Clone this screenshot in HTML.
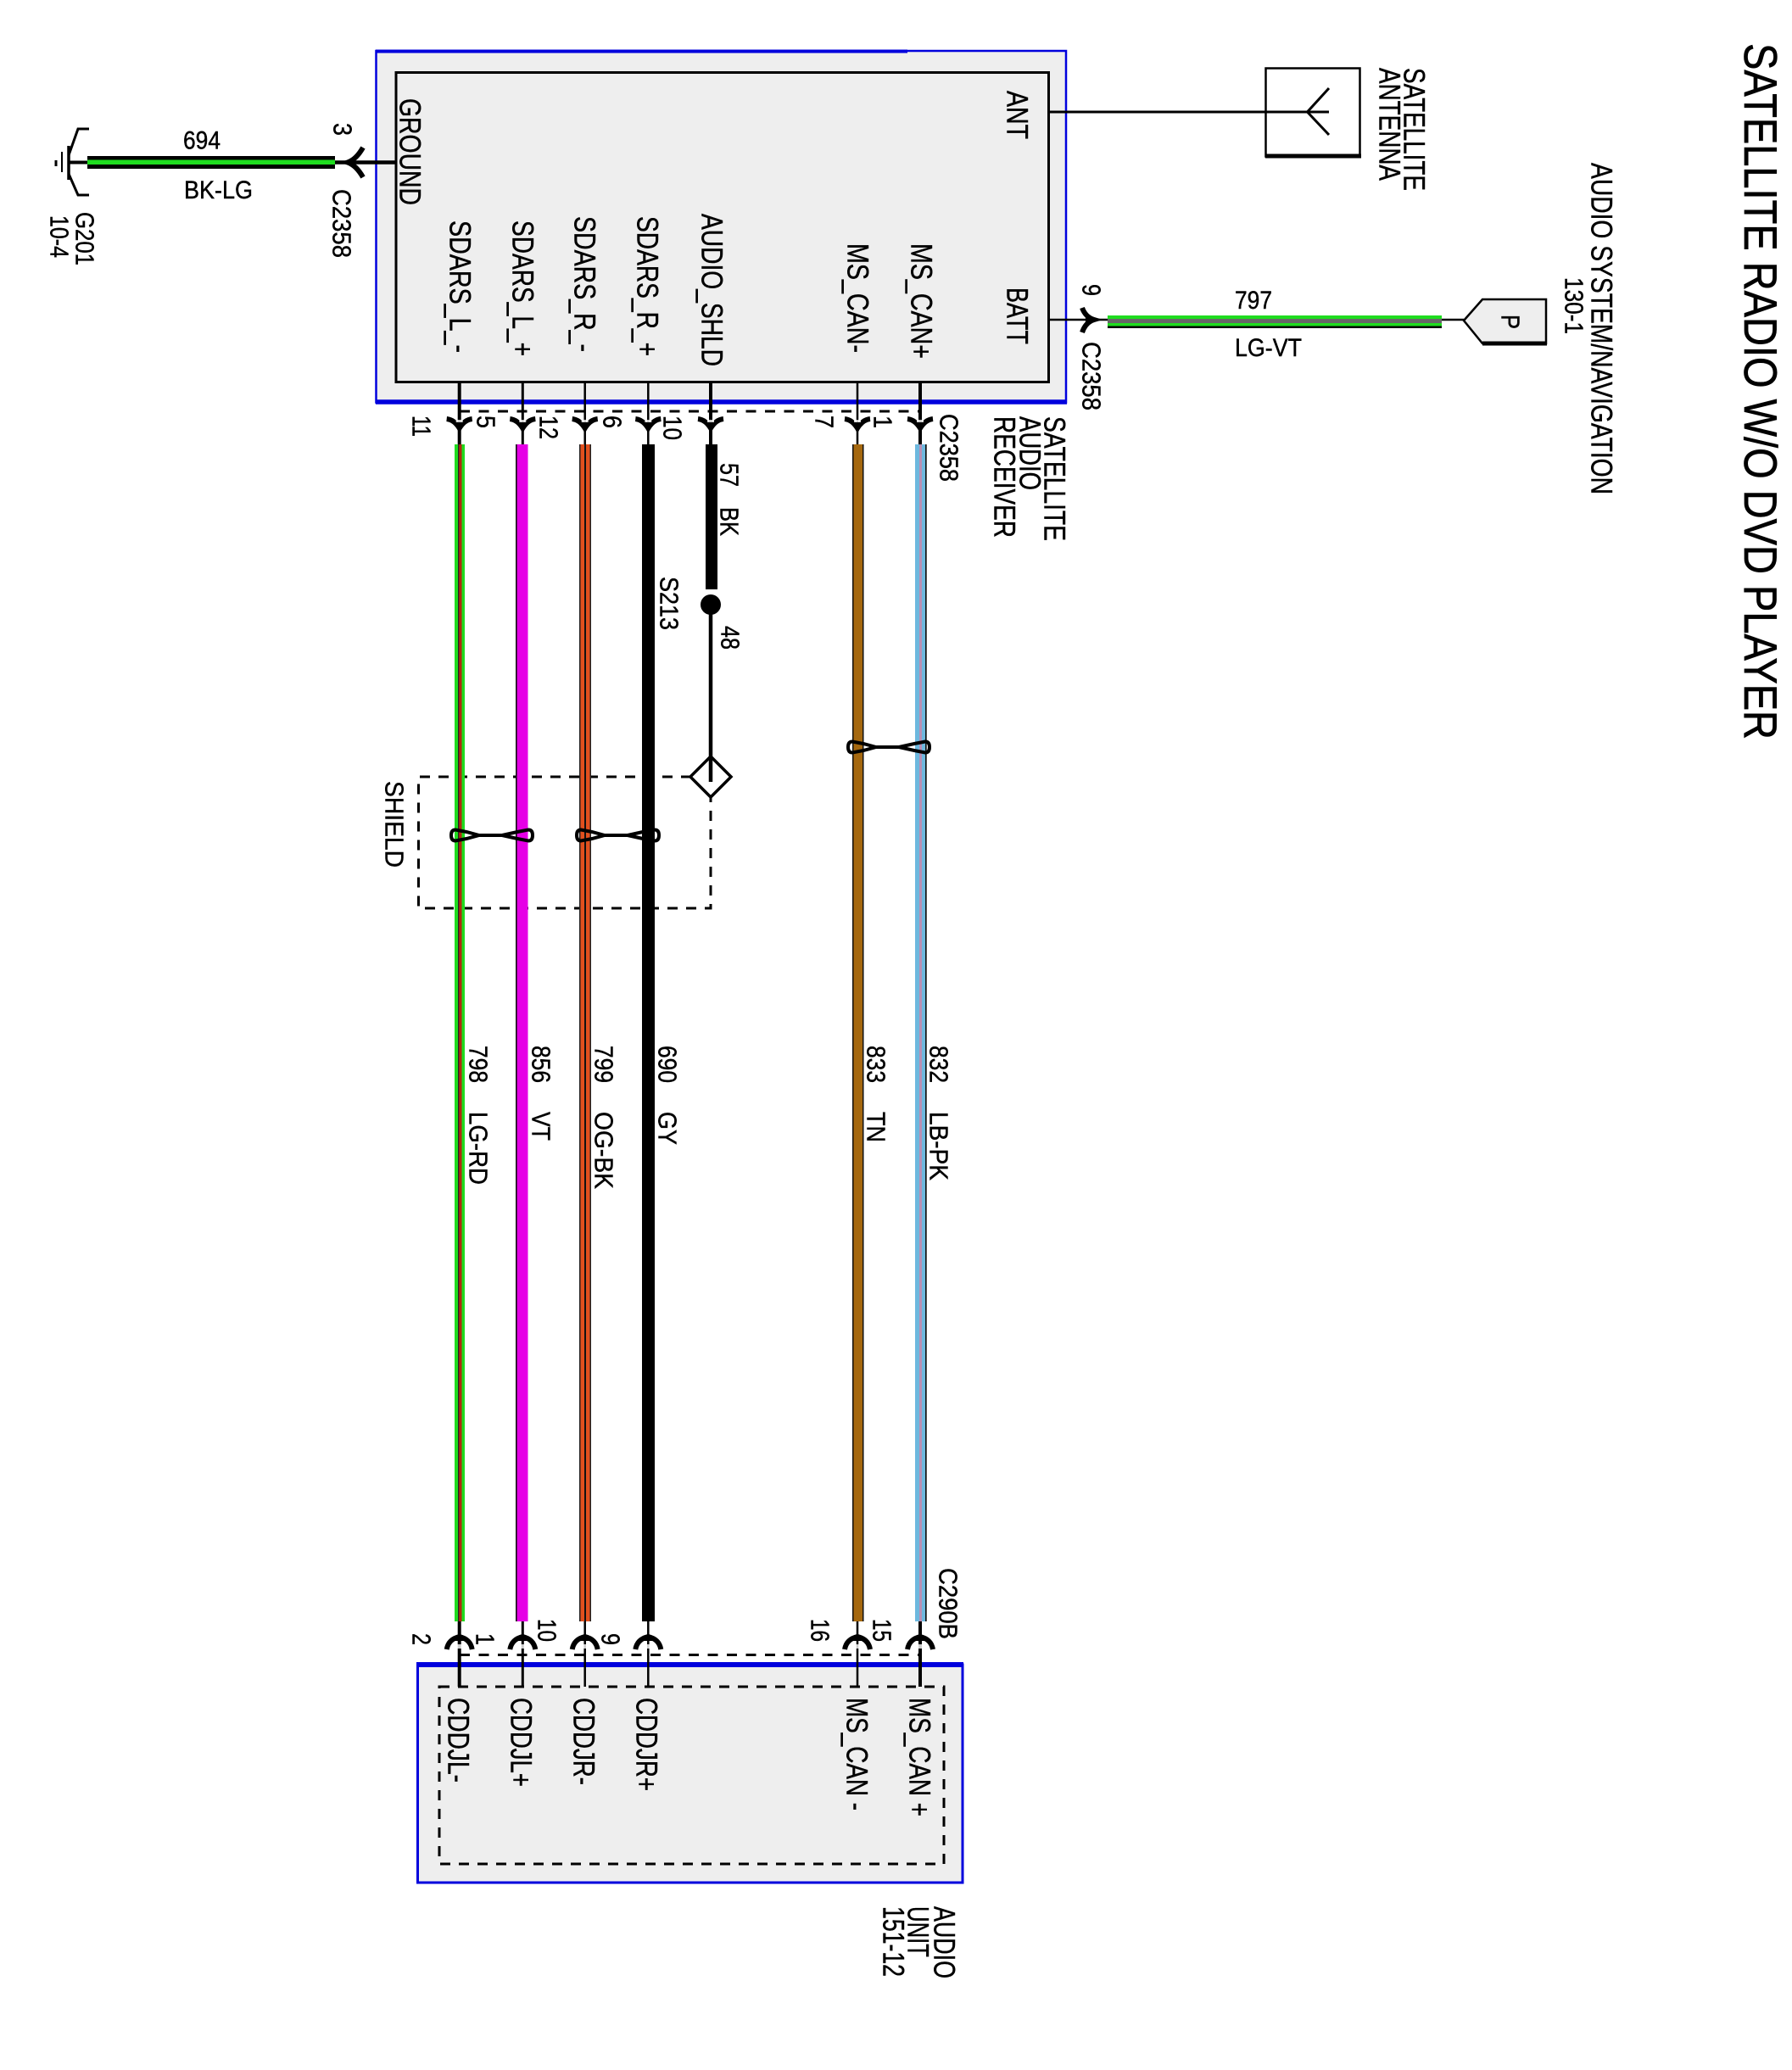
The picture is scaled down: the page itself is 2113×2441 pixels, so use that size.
<!DOCTYPE html>
<html>
<head>
<meta charset="utf-8">
<style>
html,body{margin:0;padding:0;background:#fff}
svg{display:block}
text{font-family:"Liberation Sans",sans-serif;fill:#000;stroke:#000;stroke-width:.45px}
.b{font-size:35px}
.n{font-size:31px}
</style>
</head>
<body>
<svg xmlns="http://www.w3.org/2000/svg" width="2113" height="2441" viewBox="0 0 2113 2441">
<defs>
<g id="dn"><path d="M-15,494 Q-6,495 0,505 Q6,495 15,494" fill="none" stroke="#000" stroke-width="6"/><path d="M-6,498 L0,510 L6,498Z" fill="#000"/><rect x="-4" y="495" width="8" height="3" fill="#fff" opacity=".8"/></g>
<g id="up"><path d="M-15,1945 Q-13,1933 0,1930 Q13,1933 15,1945" fill="none" stroke="#000" stroke-width="6"/><path d="M-6,1935 L0,1925 L6,1935Z" fill="#000"/><rect x="-4" y="1939" width="8" height="5" fill="#fff" opacity=".8"/></g>
</defs>
<rect width="2113" height="2441" fill="#fff"/>

<!-- Receiver box -->
<rect x="443.5" y="60" width="813.5" height="414.5" fill="#eee"/>
<path d="M443.5,60H1257V474.5H443.5Z" fill="none" stroke="#0000dd" stroke-width="2.5"/>
<path d="M443,60.5H1070" stroke="#0000dd" stroke-width="4" fill="none"/>
<path d="M443,474H1258" stroke="#0000dd" stroke-width="5.5" fill="none"/>
<rect x="467" y="85.5" width="769.5" height="365" fill="#eee" stroke="#000" stroke-width="3"/>

<!-- Audio unit box -->
<rect x="492.5" y="1963" width="642.5" height="257" fill="#eee" stroke="#0000dd" stroke-width="3"/>
<path d="M491,1963H1136" stroke="#0000dd" stroke-width="6" fill="none"/>
<rect x="518" y="1989" width="595" height="209" fill="none" stroke="#000" stroke-width="3" stroke-dasharray="12 10"/>

<!-- Dashed connector lines -->
<path d="M542,485H1085M542,1951.5H1085" fill="none" stroke="#000" stroke-width="3" stroke-dasharray="12 10.5"/>

<!-- Shield dashed -->
<path d="M815,916H493.5V1071H838V941" fill="none" stroke="#000" stroke-width="3" stroke-dasharray="12 10"/>

<!-- Thin vertical connections -->
<g fill="none" stroke="#000">
<path d="M541.7,450V524M541.7,1912V1989" stroke-width="4"/>
<path d="M616.3,450V524M616.3,1912V1989" stroke-width="3"/>
<path d="M689.7,450V524M689.7,1912V1989" stroke-width="2.5"/>
<path d="M764.3,450V524M764.3,1912V1989" stroke-width="2.5"/>
<path d="M838,450V524" stroke-width="4"/>
<path d="M1011,450V524M1011,1912V1989" stroke-width="2.5"/>
<path d="M1085,450V524M1085,1912V1989" stroke-width="4"/>
</g>

<!-- Vertical wires -->
<rect x="536" y="524" width="12" height="1388" fill="#1fdc1f"/>
<rect x="540" y="524" width="4.5" height="1388" fill="#b02a10"/>
<rect x="540" y="524" width="1.2" height="1388" fill="#222"/>

<rect x="608" y="524" width="14.5" height="1388" fill="#e600e6"/>
<rect x="608" y="524" width="1.6" height="1388" fill="#111"/>

<rect x="683" y="524" width="14" height="1388" fill="#e2501e"/>
<rect x="683" y="524" width="1.5" height="1388" fill="#222"/>
<rect x="689" y="524" width="2" height="1388" fill="#111"/>
<rect x="695.5" y="524" width="1.5" height="1388" fill="#222"/>

<rect x="757" y="524" width="15" height="1388" fill="#000"/>

<rect x="1005" y="524" width="13.5" height="1388" fill="#a5680f"/>
<rect x="1005" y="524" width="1.5" height="1388" fill="#111"/>
<rect x="1017" y="524" width="1.5" height="1388" fill="#111"/>

<rect x="1079" y="524" width="13.5" height="1388" fill="#6db8de"/>
<rect x="1084" y="524" width="3" height="1388" fill="#b88fb4"/>
<rect x="1091" y="524" width="1.7" height="1388" fill="#111"/>

<!-- Wire 57 and splice -->
<rect x="832" y="524" width="14" height="171" fill="#000"/>
<circle cx="838" cy="713" r="12" fill="#000"/>
<path d="M838,713V922" stroke="#000" stroke-width="4.5" fill="none"/>
<path d="M838,892L862,916L838,940L814,916Z" fill="none" stroke="#000" stroke-width="3.5"/>

<!-- Connector arrows top -->
<use href="#dn" x="541.7"/><use href="#dn" x="616.3"/><use href="#dn" x="689.7"/><use href="#dn" x="764.3"/><use href="#dn" x="838"/><use href="#dn" x="1011"/><use href="#dn" x="1085"/>
<!-- Connector arrows bottom -->
<use href="#up" x="541.7"/><use href="#up" x="616.3"/><use href="#up" x="689.7"/><use href="#up" x="764.3"/><use href="#up" x="1011"/><use href="#up" x="1085"/>

<!-- Twisted pairs -->
<g fill="none" stroke="#000" stroke-width="4">
<path d="M565,985L550,981L537,978.5Q532,978.5 532,985Q532,991.5 537,991.5L550,989L565,985H592L610,981L623,978.5Q628,978.5 628,985Q628,991.5 623,991.5L610,989L592,985"/>
<path d="M713,985L698,981L685,978.5Q680,978.5 680,985Q680,991.5 685,991.5L698,989L713,985H740L758,981L772,978.5Q777,978.5 777,985Q777,991.5 772,991.5L758,989L740,985"/>
<path d="M1033,881L1018,877L1005,874.5Q1000,874.5 1000,881Q1000,887.5 1005,887.5L1018,885L1033,881H1060L1078,877L1091,874.5Q1096,874.5 1096,881Q1096,887.5 1091,887.5L1078,885L1060,881"/>
</g>

<!-- Ground -->
<path d="M82,191.5H103" stroke="#000" stroke-width="4"/>
<rect x="103" y="184" width="292" height="15" fill="#000"/>
<rect x="103" y="188.5" width="292" height="5.5" fill="#1fdc1f"/>
<path d="M395,191.5H467" stroke="#000" stroke-width="4.5"/>
<path d="M428,174Q420,188 410,191.5Q420,195 428,209" fill="none" stroke="#000" stroke-width="6"/>
<path d="M405,191.5L416,185V198Z" fill="#000"/>
<path d="M105,152H92L81,183M81,205L92,230H105" fill="none" stroke="#000" stroke-width="3"/>
<path d="M81,172V212" stroke="#000" stroke-width="3.5"/>
<path d="M73,179V203" stroke="#000" stroke-width="2"/>
<path d="M66,189V196" stroke="#000" stroke-width="3"/>

<!-- Antenna -->
<path d="M1236,132H1567" stroke="#000" stroke-width="3" fill="none"/>
<rect x="1492.5" y="80.5" width="111" height="104" fill="none" stroke="#000" stroke-width="2.5"/>
<path d="M1492,184H1605" stroke="#000" stroke-width="5"/>
<path d="M1567,104L1541.5,132L1567,159" fill="none" stroke="#000" stroke-width="3"/>

<!-- BATT -->
<path d="M1236,377H1307" stroke="#000" stroke-width="2.5"/>
<path d="M1276,363Q1280,374 1290,377Q1280,380 1276,392" fill="none" stroke="#000" stroke-width="6"/>
<path d="M1292,377L1280,371V383Z" fill="#000"/>
<rect x="1306" y="372" width="394" height="15" fill="#000"/>
<rect x="1306" y="372" width="394" height="4" fill="#1fdc1f"/>
<rect x="1306" y="376" width="394" height="5" fill="#666"/>
<rect x="1306" y="381" width="394" height="3.5" fill="#1fdc1f"/>
<path d="M1700,377H1726" stroke="#000" stroke-width="2.5"/>
<path d="M1726,378L1748,353H1823V405H1748Z" fill="#eee" stroke="#000" stroke-width="2.5"/>
<path d="M1748,405H1824" stroke="#000" stroke-width="5"/>

<!-- Title -->
<text font-size="55" style="stroke-width:.7px" transform="translate(2057,51) rotate(90)" textLength="821" lengthAdjust="spacingAndGlyphs">SATELLITE RADIO W/O DVD PLAYER</text>

<!-- Horizontal labels -->
<text font-size="30" x="216" y="175.5" textLength="44" lengthAdjust="spacingAndGlyphs">694</text>
<text font-size="30" x="217" y="234" textLength="81" lengthAdjust="spacingAndGlyphs">BK-LG</text>
<text font-size="30" x="1456" y="364" textLength="44" lengthAdjust="spacingAndGlyphs">797</text>
<text font-size="30" x="1456" y="420" textLength="79" lengthAdjust="spacingAndGlyphs">LG-VT</text>

<g transform="translate(1.5,0)">
<!-- Labels in receiver -->
<text class="b" transform="translate(470,116) rotate(90)" textLength="126" lengthAdjust="spacingAndGlyphs">GROUND</text>
<text class="b" transform="translate(529,260) rotate(90)" textLength="156" lengthAdjust="spacingAndGlyphs">SDARS_L_-</text>
<text class="b" transform="translate(603,260) rotate(90)" textLength="160" lengthAdjust="spacingAndGlyphs">SDARS_L_+</text>
<text class="b" transform="translate(676,255) rotate(90)" textLength="160" lengthAdjust="spacingAndGlyphs">SDARS_R_-</text>
<text class="b" transform="translate(750,255) rotate(90)" textLength="165" lengthAdjust="spacingAndGlyphs">SDARS_R_+</text>
<text class="b" transform="translate(826,252) rotate(90)" textLength="180" lengthAdjust="spacingAndGlyphs">AUDIO_SHLD</text>
<text class="b" transform="translate(998,287) rotate(90)" textLength="129" lengthAdjust="spacingAndGlyphs">MS_CAN-</text>
<text class="b" transform="translate(1073,287) rotate(90)" textLength="136" lengthAdjust="spacingAndGlyphs">MS_CAN+</text>
<text class="b" transform="translate(1186,107) rotate(90)" textLength="57" lengthAdjust="spacingAndGlyphs">ANT</text>
<text class="b" transform="translate(1186,339) rotate(90)" textLength="67" lengthAdjust="spacingAndGlyphs">BATT</text>

<!-- Pin and connector labels -->
<text class="n" transform="translate(392,145) rotate(90)" textLength="15" lengthAdjust="spacingAndGlyphs">3</text>
<text class="n" transform="translate(391,223) rotate(90)" textLength="81" lengthAdjust="spacingAndGlyphs">C2358</text>
<text class="n" transform="translate(88,250) rotate(90)" textLength="63" lengthAdjust="spacingAndGlyphs">G201</text>
<text class="n" transform="translate(58,254) rotate(90)" textLength="50" lengthAdjust="spacingAndGlyphs">10-4</text>
<text class="n" transform="translate(485,490) rotate(90)" textLength="25" lengthAdjust="spacingAndGlyphs">11</text>
<text class="n" transform="translate(561,490) rotate(90)" textLength="15" lengthAdjust="spacingAndGlyphs">5</text>
<text class="n" transform="translate(635,490) rotate(90)" textLength="28" lengthAdjust="spacingAndGlyphs">12</text>
<text class="n" transform="translate(710,490) rotate(90)" textLength="15" lengthAdjust="spacingAndGlyphs">6</text>
<text class="n" transform="translate(781,490) rotate(90)" textLength="29" lengthAdjust="spacingAndGlyphs">10</text>
<text class="n" transform="translate(960,490) rotate(90)" textLength="15" lengthAdjust="spacingAndGlyphs">7</text>
<text class="n" transform="translate(1029,490) rotate(90)" textLength="15" lengthAdjust="spacingAndGlyphs">1</text>
<text class="n" transform="translate(1107,488) rotate(90)" textLength="80" lengthAdjust="spacingAndGlyphs">C2358</text>
<text class="n" transform="translate(1275,335) rotate(90)" textLength="14" lengthAdjust="spacingAndGlyphs">9</text>
<text class="n" transform="translate(1275,403) rotate(90)" textLength="81" lengthAdjust="spacingAndGlyphs">C2358</text>

<text class="b" transform="translate(1230,491) rotate(90)" textLength="147" lengthAdjust="spacingAndGlyphs">SATELLITE</text>
<text class="b" transform="translate(1201,491) rotate(90)" textLength="87" lengthAdjust="spacingAndGlyphs">AUDIO</text>
<text class="b" transform="translate(1171,491) rotate(90)" textLength="143" lengthAdjust="spacingAndGlyphs">RECEIVER</text>

<text class="b" transform="translate(1654,80) rotate(90)" textLength="145" lengthAdjust="spacingAndGlyphs">SATELLITE</text>
<text class="b" transform="translate(1625,80) rotate(90)" textLength="133" lengthAdjust="spacingAndGlyphs">ANTENNA</text>
<text class="b" transform="translate(1875,192) rotate(90)" textLength="391" lengthAdjust="spacingAndGlyphs">AUDIO SYSTEM/NAVIGATION</text>
<text class="n" transform="translate(1844,327) rotate(90)" textLength="67" lengthAdjust="spacingAndGlyphs">130-1</text>
<text class="n" transform="translate(1769,371) rotate(90)" textLength="17" lengthAdjust="spacingAndGlyphs">P</text>

<!-- Wire labels -->
<text class="n" transform="translate(848,546) rotate(90)" textLength="28" lengthAdjust="spacingAndGlyphs">57</text>
<text class="n" transform="translate(848,598) rotate(90)" textLength="34" lengthAdjust="spacingAndGlyphs">BK</text>
<text class="n" transform="translate(777,680) rotate(90)" textLength="63" lengthAdjust="spacingAndGlyphs">S213</text>
<text class="n" transform="translate(849,738) rotate(90)" textLength="28" lengthAdjust="spacingAndGlyphs">48</text>
<text class="n" transform="translate(453,921) rotate(90)" textLength="102" lengthAdjust="spacingAndGlyphs">SHIELD</text>

<text class="n" transform="translate(552,1233) rotate(90)" textLength="44" lengthAdjust="spacingAndGlyphs">798</text>
<text class="n" transform="translate(552,1311) rotate(90)" textLength="86" lengthAdjust="spacingAndGlyphs">LG-RD</text>
<text class="n" transform="translate(626,1233) rotate(90)" textLength="44" lengthAdjust="spacingAndGlyphs">856</text>
<text class="n" transform="translate(626,1311) rotate(90)" textLength="34" lengthAdjust="spacingAndGlyphs">VT</text>
<text class="n" transform="translate(700,1233) rotate(90)" textLength="44" lengthAdjust="spacingAndGlyphs">799</text>
<text class="n" transform="translate(700,1311) rotate(90)" textLength="91" lengthAdjust="spacingAndGlyphs">OG-BK</text>
<text class="n" transform="translate(775,1233) rotate(90)" textLength="44" lengthAdjust="spacingAndGlyphs">690</text>
<text class="n" transform="translate(775,1311) rotate(90)" textLength="39" lengthAdjust="spacingAndGlyphs">GY</text>
<text class="n" transform="translate(1021,1233) rotate(90)" textLength="44" lengthAdjust="spacingAndGlyphs">833</text>
<text class="n" transform="translate(1021,1311) rotate(90)" textLength="36" lengthAdjust="spacingAndGlyphs">TN</text>
<text class="n" transform="translate(1095,1233) rotate(90)" textLength="44" lengthAdjust="spacingAndGlyphs">832</text>
<text class="n" transform="translate(1095,1311) rotate(90)" textLength="81" lengthAdjust="spacingAndGlyphs">LB-PK</text>

<!-- Bottom labels -->
<text class="n" transform="translate(1106,1849) rotate(90)" textLength="84" lengthAdjust="spacingAndGlyphs">C290B</text>
<text class="n" transform="translate(485,1926) rotate(90)" textLength="14" lengthAdjust="spacingAndGlyphs">2</text>
<text class="n" transform="translate(560,1926) rotate(90)" textLength="14" lengthAdjust="spacingAndGlyphs">1</text>
<text class="n" transform="translate(633,1909) rotate(90)" textLength="27" lengthAdjust="spacingAndGlyphs">10</text>
<text class="n" transform="translate(708,1926) rotate(90)" textLength="14" lengthAdjust="spacingAndGlyphs">9</text>
<text class="n" transform="translate(955,1909) rotate(90)" textLength="27" lengthAdjust="spacingAndGlyphs">16</text>
<text class="n" transform="translate(1028,1909) rotate(90)" textLength="27" lengthAdjust="spacingAndGlyphs">15</text>

<text class="b" transform="translate(527,2002) rotate(90)" textLength="100" lengthAdjust="spacingAndGlyphs">CDDJL-</text>
<text class="b" transform="translate(601,2002) rotate(90)" textLength="105" lengthAdjust="spacingAndGlyphs">CDDJL+</text>
<text class="b" transform="translate(675,2002) rotate(90)" textLength="103" lengthAdjust="spacingAndGlyphs">CDDJR-</text>
<text class="b" transform="translate(749,2002) rotate(90)" textLength="110" lengthAdjust="spacingAndGlyphs">CDDJR+</text>
<text class="b" transform="translate(997,2002) rotate(90)" textLength="133" lengthAdjust="spacingAndGlyphs">MS_CAN -</text>
<text class="b" transform="translate(1071,2002) rotate(90)" textLength="140" lengthAdjust="spacingAndGlyphs">MS_CAN +</text>
<text class="b" transform="translate(1100,2248) rotate(90)" textLength="85" lengthAdjust="spacingAndGlyphs">AUDIO</text>
<text class="b" transform="translate(1069,2248) rotate(90)" textLength="60" lengthAdjust="spacingAndGlyphs">UNIT</text>
<text class="b" transform="translate(1040,2248) rotate(90)" textLength="83" lengthAdjust="spacingAndGlyphs">151-12</text>
</g>
</svg>
</body>
</html>
